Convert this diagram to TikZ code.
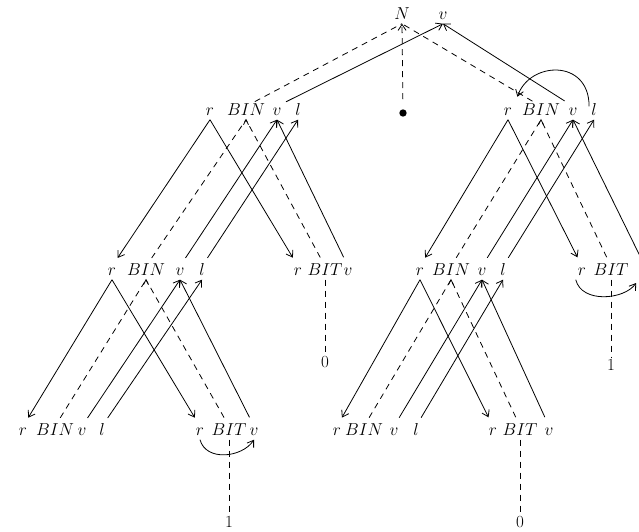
\documentclass[tikz,border=0pt]{standalone}
\usepackage{tikz}
\usetikzlibrary{arrows.meta}

\tikzset{
    att/.style={inner sep=2pt, text height=1.6ex, text depth=0.5ex, font=\fontsize{17}{19}\selectfont},
    leaf/.style={inner sep=2pt, font=\fontsize{17}{19}\selectfont},
    dep/.style={-{Straight Barb[length=6pt,width=8pt]}, line width=0.8pt},
    down/.style={dep, shorten >=10pt},
    up/.style={dep, shorten <=10pt},
    tree/.style={line width=0.8pt, dash pattern=on 6pt off 5pt},
    edge/.style={tree, shorten <=10pt},
    chev/.style={line width=0.8pt},
}

\begin{document}
\begin{tikzpicture}[x=1pt, y=-1pt]
    \useasboundingbox (0,0) rectangle (639,532);

    % Root: N v and the point
    \node[att] (Nn) at (402,17) {$N$};
    \node[att] (Nv) at (443,17) {$v$};
    \node[circle, fill, inner sep=2.6pt] (pt) at (403,113) {};

    % Second row: integer part (left), fraction (right)
    \node[att] (b1r) at (210,113) {$r$};
    \node[att] (b1n) at (246,113) {$BIN$};
    \node[att] (b1v) at (277,113) {$v$};
    \node[att] (b1l) at (298,113) {$l$};

    \node[att] (b2r) at (508,113) {$r$};
    \node[att] (b2n) at (541,113) {$BIN$};
    \node[att] (b2v) at (573,113) {$v$};
    \node[att] (b2l) at (594,113) {$l$};

    % Third row
    \node[att] (b3r) at (112,273) {$r$};
    \node[att] (b3n) at (146,273) {$BIN$};
    \node[att] (b3v) at (180,273) {$v$};
    \node[att] (b3l) at (202,273) {$l$};

    \node[att] (t1r) at (298,273) {$r$};
    \node[att] (t1n) at (325,273) {$BIT$};
    \node[att] (t1v) at (348,273) {$v$};
    \node[leaf] (t1z) at (325,362) {0};

    \node[att] (b4r) at (420,273) {$r$};
    \node[att] (b4n) at (451,273) {$BIN$};
    \node[att] (b4v) at (482,273) {$v$};
    \node[att] (b4l) at (503,273) {$l$};

    \node[att] (t2r) at (582,273) {$r$};
    \node[att] (t2n) at (611,273) {$BIT$};
    \node[att] (t2v) at (645,273) {$v$};
    \node[leaf] (t2z) at (611,365) {1};

    % Bottom row
    \node[att] (b5r) at (23,433) {$r$};
    \node[att] (b5n) at (55,433) {$BIN$};
    \node[att] (b5v) at (82,433) {$v$};
    \node[att] (b5l) at (102,433) {$l$};

    \node[att] (t3r) at (200,433) {$r$};
    \node[att] (t3n) at (229,433) {$BIT$};
    \node[att] (t3v) at (254,433) {$v$};
    \node[leaf] (t3z) at (229,522) {1};

    \node[att] (b6r) at (337,433) {$r$};
    \node[att] (b6n) at (364,433) {$BIN$};
    \node[att] (b6v) at (394,433) {$v$};
    \node[att] (b6l) at (416,433) {$l$};

    \node[att] (t4r) at (493,433) {$r$};
    \node[att] (t4n) at (520,433) {$BIT$};
    \node[att] (t4v) at (549,433) {$v$};
    \node[leaf] (t4z) at (520,522) {0};

    % N -> BIN . BIN
    \draw[edge] (b1n.north) -- (Nn.south);
    \draw[edge] (b2n.north) -- (Nn.south);
    \draw[edge, -{Straight Barb[length=6pt,width=8pt]}] (pt) -- (Nn.south);
    \draw[up] (b1v.north) -- (Nv.south);
    \draw[up] (b2v.north) -- (Nv.south);
    \draw[dep, shorten >=10pt] (b2l.north west) .. controls +(0,-48) and +(15,-45) .. (b2r.north east);

    % BIN -> BIN BIT (left)
    \draw[down] (b1r.south) -- (b3r.north);
    \draw[down] (b1r.south) -- (t1r.north);
    \draw[edge] (b3n.north) -- (b1n.south);
    \draw[edge] (t1n.north) -- (b1n.south);
    \draw[chev] (b1n.south) ++(-2.5,5) -- (b1n.south) -- ++(2.5,5);
    \draw[up] (b3v.north) -- (b1v.south);
    \draw[up] (t1v.north) -- (b1v.south);
    \draw[up] (b3l.north) -- (b1l.south);
    \draw[tree] (t1n.south) -- (t1z.north);

    % BIN -> BIN BIT (right)
    \draw[down] (b2r.south) -- (b4r.north);
    \draw[down] (b2r.south) -- (t2r.north);
    \draw[edge] (b4n.north) -- (b2n.south);
    \draw[edge] (t2n.north) -- (b2n.south);
    \draw[chev] (b2n.south) ++(-2.5,5) -- (b2n.south) -- ++(2.5,5);
    \draw[up] (b4v.north) -- (b2v.south);
    \draw[up] (t2v.north) -- (b2v.south);
    \draw[up] (b4l.north) -- (b2l.south);
    \draw[tree] (t2n.south) -- (t2z.north);
    \draw[dep, shorten >=4pt] (t2r.south west) .. controls +(6,24) and +(-14,20) .. (t2v.south west);

    % BIN -> BIN BIT (bottom left)
    \draw[down] (b3r.south) -- (b5r.north);
    \draw[down] (b3r.south) -- (t3r.north);
    \draw[edge] (b5n.north) -- (b3n.south);
    \draw[edge] (t3n.north) -- (b3n.south);
    \draw[chev] (b3n.south) ++(-2.5,5) -- (b3n.south) -- ++(2.5,5);
    \draw[up] (b5v.north) -- (b3v.south);
    \draw[up] (t3v.north) -- (b3v.south);
    \draw[up] (b5l.north) -- (b3l.south);
    \draw[tree] (t3n.south) -- (t3z.north);
    \draw[dep] (t3r.south) .. controls +(6,22) and +(-12,18) .. (t3v.south);

    % BIN -> BIN BIT (bottom right)
    \draw[down] (b4r.south) -- (b6r.north);
    \draw[down] (b4r.south) -- (t4r.north);
    \draw[edge] (b6n.north) -- (b4n.south);
    \draw[edge] (t4n.north) -- (b4n.south);
    \draw[chev] (b4n.south) ++(-2.5,5) -- (b4n.south) -- ++(2.5,5);
    \draw[up] (b6v.north) -- (b4v.south);
    \draw[up] (t4v.north) -- (b4v.south);
    \draw[up] (b6l.north) -- (b4l.south);
    \draw[tree] (t4n.south) -- (t4z.north);
\end{tikzpicture}
\end{document}
